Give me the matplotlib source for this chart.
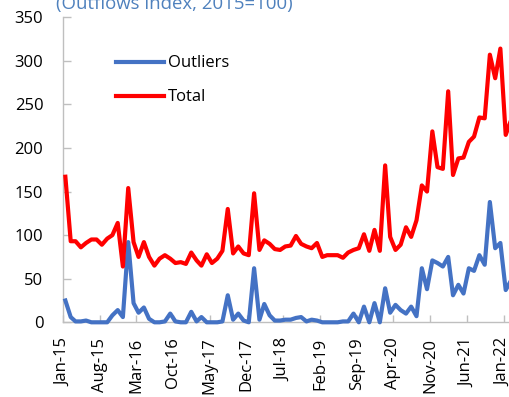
import numpy as np
import pandas as pd
import matplotlib
matplotlib.use("Agg")
import matplotlib.pyplot as plt
import matplotlib.dates as mdates
from matplotlib.ticker import FixedLocator

plt.rcParams['font.family'] = ['Open Sans', 'DejaVu Sans']

# ---- data (monthly, Jan-2015 .. Feb-2022) ----
months = pd.date_range('2015-01-01', periods=86, freq='MS')
total = [167, 93, 93, 86, 91, 95, 95, 89, 96, 100,
         114, 64, 154, 92, 75, 92, 75, 65, 73, 77,
         73, 68, 69, 67, 80, 71, 65, 78, 68, 73,
         82, 130, 79, 87, 79, 77, 148, 83, 94, 90,
         84, 83, 87, 88, 99, 90, 87, 85, 91, 75,
         77, 77, 77, 74, 80, 83, 85, 101, 82, 106,
         82, 180, 98, 83, 89, 109, 98, 117, 157, 150,
         219, 178, 176, 265, 169, 188, 189, 207, 213, 235,
         234, 307, 280, 314, 215, 232]
outliers = [25, 6, 1, 1, 2, 0, 0, 0, 0, 8,
            14, 6, 92, 22, 11, 17, 4, 0, 0, 1,
            10, 1, 0, 0, 12, 1, 6, 0, 0, 0,
            1, 31, 3, 10, 2, 0, 62, 3, 21, 8,
            2, 2, 3, 3, 5, 6, 1, 3, 2, 0,
            0, 0, 0, 1, 1, 10, 0, 18, 0, 22,
            0, 39, 11, 20, 14, 10, 18, 7, 62, 38,
            71, 68, 64, 75, 31, 43, 33, 62, 59, 77,
            66, 138, 85, 91, 37, 48]
tick_dates = pd.date_range('2015-01-01', periods=13, freq='7MS')
y_ticks = [0, 50, 100, 150, 200, 250, 300, 350]
title = "(Outflows index, 2015=100)"

# data points are dated mid-month
dates = months + pd.Timedelta(days=12)

W, H = 510, 397
fig = plt.figure(figsize=(W / 100, H / 100), dpi=100)
ax_left, ax_bottom, ax_w, ax_h = 63.3, 397 - 322.3, 450.5, 305.1
ax = fig.add_axes([ax_left / W, ax_bottom / H, ax_w / W, ax_h / H])

ax.plot(dates, outliers, color='#4472C4', lw=3.0, label='Outliers',
        clip_on=False, solid_joinstyle='round', zorder=3)
ax.plot(dates, total, color='#FF0000', lw=3.0, label='Total',
        clip_on=False, solid_joinstyle='round', zorder=4)

ax.set_xlim(pd.Timestamp('2015-01-01'), pd.Timestamp('2022-03-01'))
ax.set_ylim(0, 350)
ax.yaxis.set_major_locator(FixedLocator(y_ticks))
ax.xaxis.set_major_locator(FixedLocator(mdates.date2num(tick_dates)))
ax.xaxis.set_major_formatter(mdates.DateFormatter('%b-%y'))

for s in ['top', 'right']:
    ax.spines[s].set_visible(False)
for s in ['left', 'bottom']:
    ax.spines[s].set_color('#BFBFBF')
    ax.spines[s].set_linewidth(1.0)

ax.tick_params(axis='y', direction='in', length=6, width=1, color='#BFBFBF',
               labelsize=12, pad=14.4, labelcolor='black')
ax.tick_params(axis='x', direction='in', length=5, width=1, color='#BFBFBF',
               labelsize=12, pad=11, labelcolor='black', labelrotation=90)

leg = ax.legend(loc='upper left', bbox_to_anchor=(0.1163, 0.8746),
                frameon=False, fontsize=12, handlelength=2.9,
                handletextpad=0.25, labelspacing=1.08, borderpad=0,
                borderaxespad=0)
for h in leg.get_lines():
    h.set_linewidth(3.0)

fig.text(56 / W, 1 - 8.5 / H, title, color='#4F81BD', fontsize=13.4,
         ha='left', va='baseline')

fig.savefig('out.png', dpi=100)
